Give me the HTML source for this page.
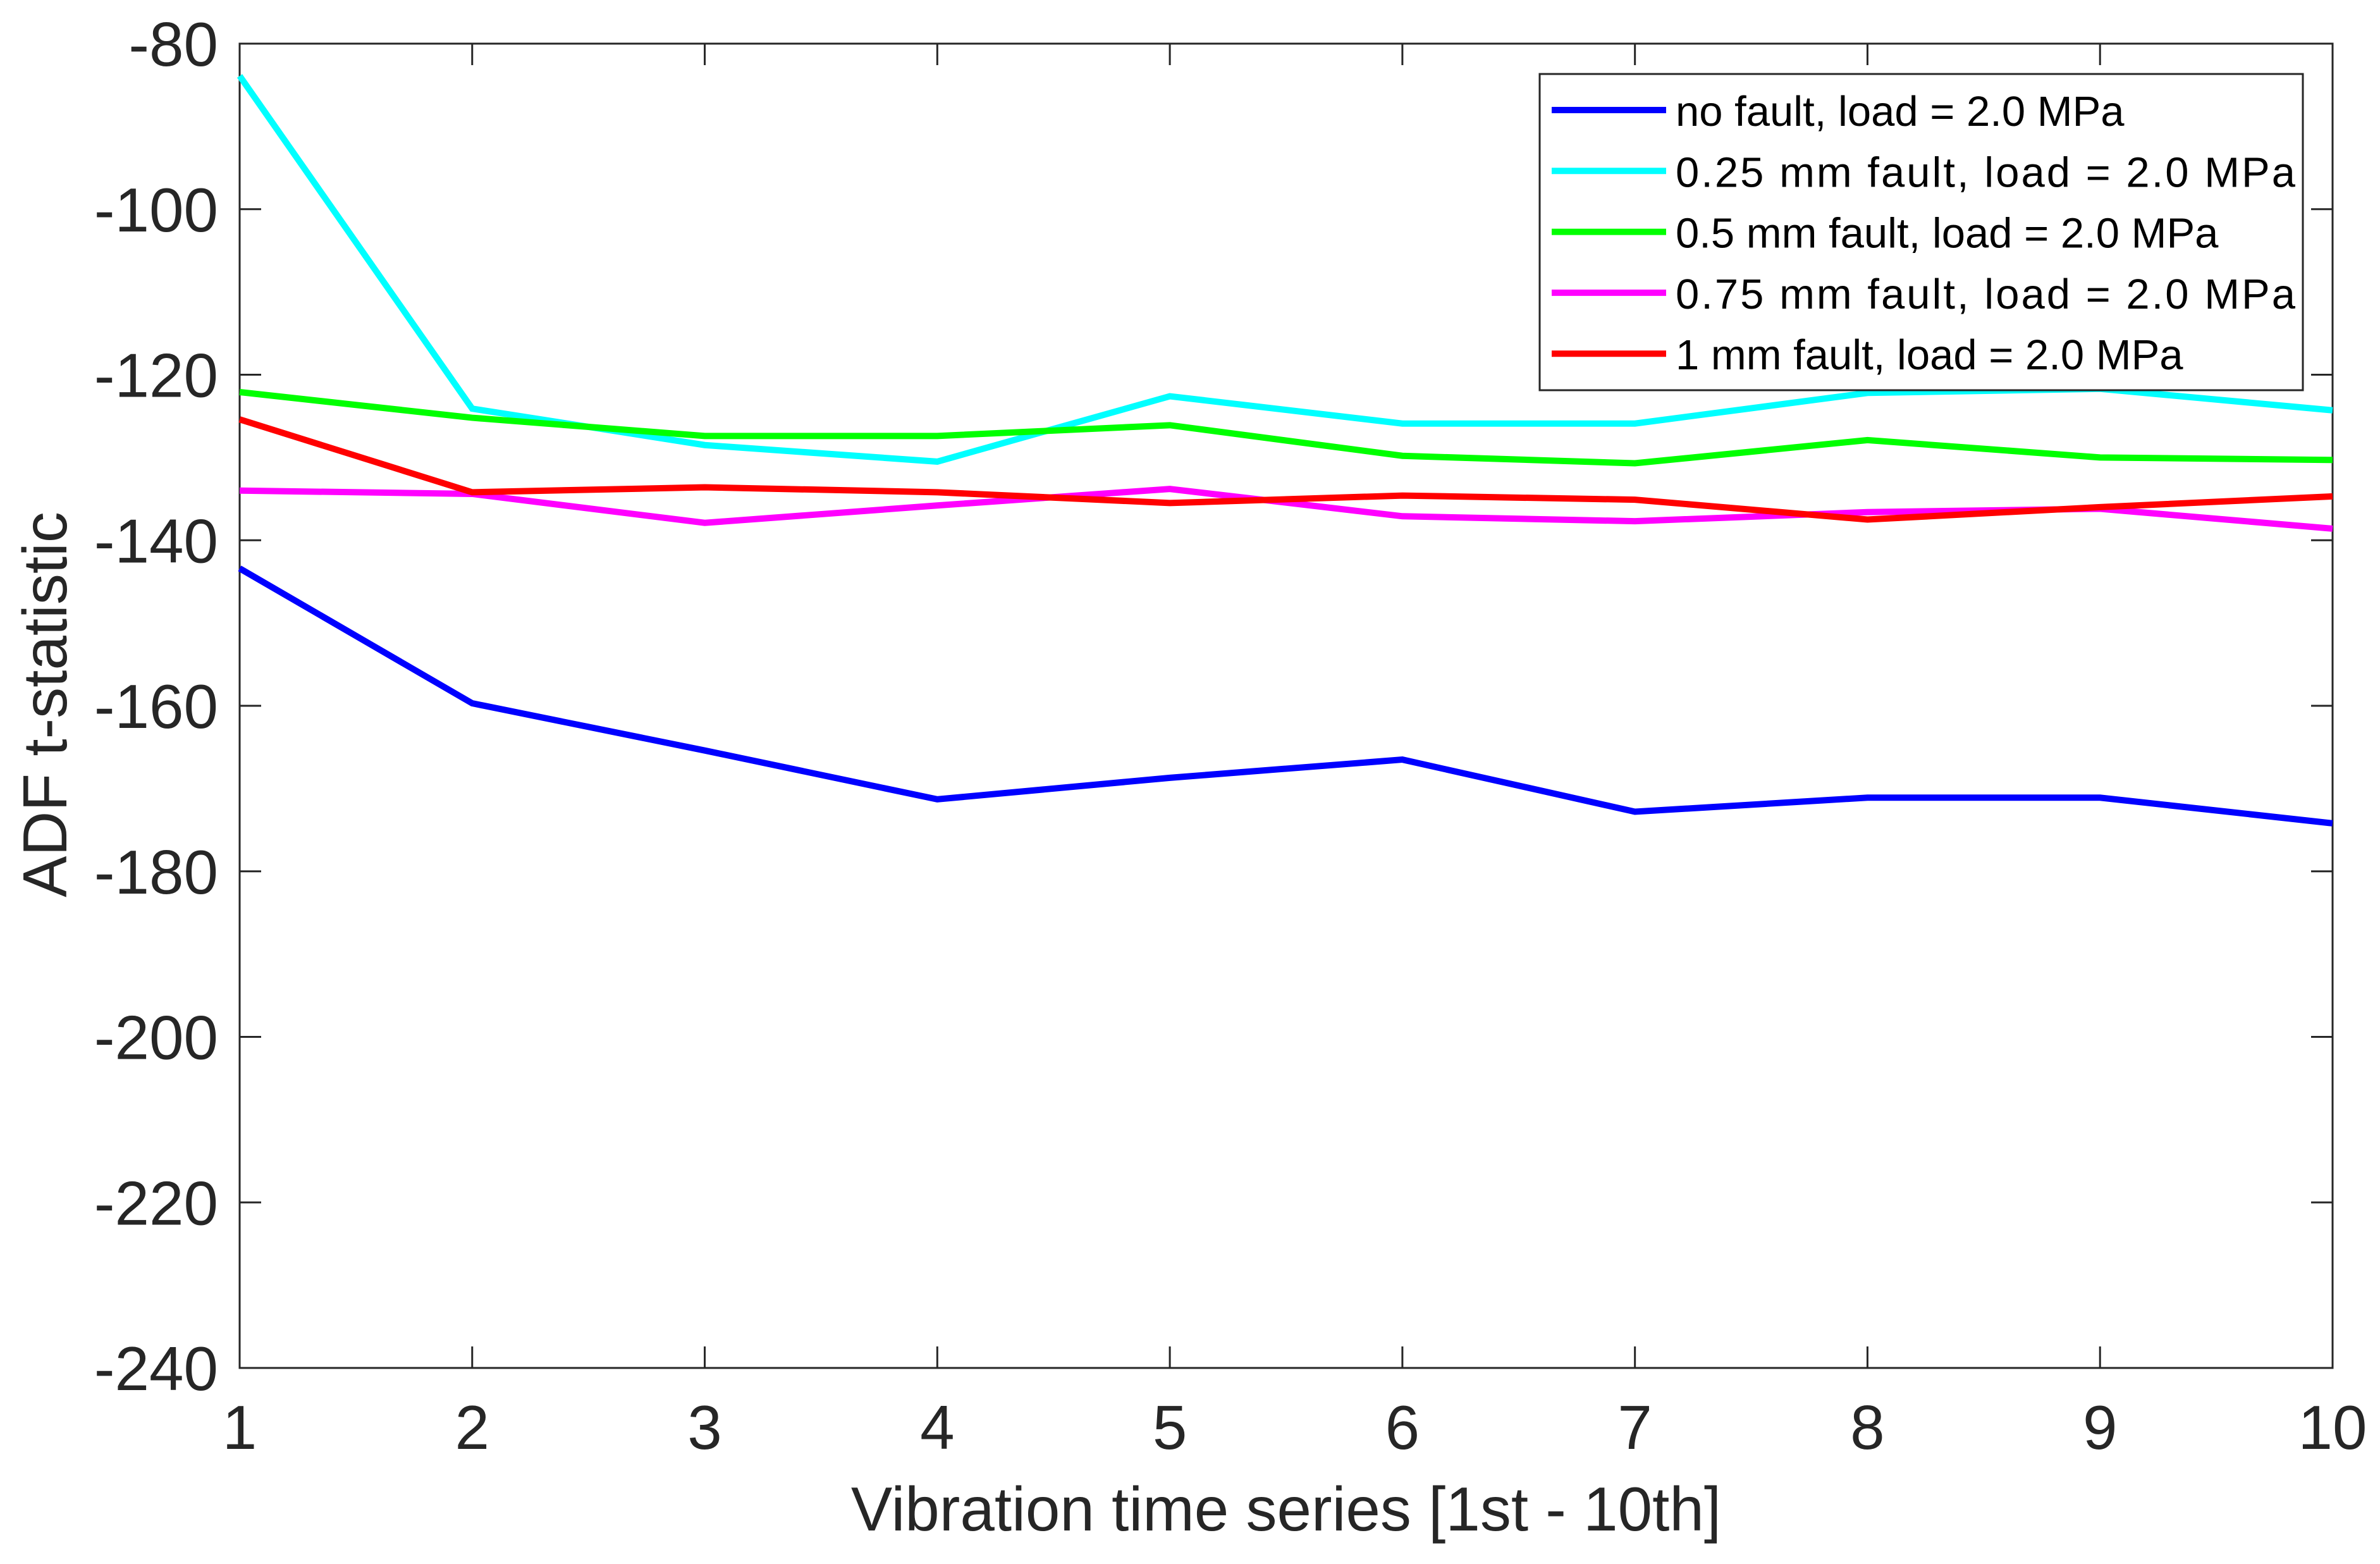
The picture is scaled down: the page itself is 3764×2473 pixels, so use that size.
<!DOCTYPE html>
<html><head><meta charset="utf-8"><style>
html,body{margin:0;padding:0;background:#fff;}
svg{display:block;font-family:"Liberation Sans",Arial,sans-serif;}
</style></head><body>
<svg id="chart" width="3764" height="2473" viewBox="0 0 3764 2473" xmlns="http://www.w3.org/2000/svg">
<g id="plot"></g>
</svg>
<script>
const categories = [1,2,3,4,5,6,7,8,9,10];
const yTicks = [-80,-100,-120,-140,-160,-180,-200,-220,-240];
const seriesNames = ["no fault, load = 2.0 MPa","0.25 mm fault, load = 2.0 MPa","0.5 mm fault, load = 2.0 MPa","0.75 mm fault, load = 2.0 MPa","1 mm fault, load = 2.0 MPa"];
const seriesColors = ["#0000ff","#00ffff","#00ff00","#ff00ff","#ff0000"];
const noFault = [-143.4,-159.7,-165.4,-171.3,-168.7,-166.5,-172.8,-171.1,-171.1,-174.2];
const fault025 = [-83.9,-124.1,-128.5,-130.5,-122.6,-125.9,-125.9,-122.2,-121.7,-124.3];
const fault05 = [-122.1,-125.2,-127.4,-127.4,-126.1,-129.8,-130.7,-127.9,-130.0,-130.3];
const fault075 = [-134.0,-134.4,-137.9,-135.8,-133.8,-137.1,-137.7,-136.6,-136.2,-138.6];
const fault1 = [-125.4,-134.2,-133.6,-134.2,-135.5,-134.6,-135.1,-137.5,-136.0,-134.7];
const seriesData = [noFault,fault025,fault05,fault075,fault1];
const seriesKeys = ["no-fault","fault-0-25mm","fault-0-5mm","fault-0-75mm","fault-1mm"];

const L=379,R=3689,T=69,B=2163,xMin=1,xMax=10,yMin=-240,yMax=-80;
const NS="http://www.w3.org/2000/svg";
const g=document.getElementById('plot');
function xs(v){return L+(v-xMin)/(xMax-xMin)*(R-L);}
function ys(v){return B-(v-yMin)/(yMax-yMin)*(B-T);}
function mk(tag,attrs,parent){const e=document.createElementNS(NS,tag);for(const k in attrs)e.setAttribute(k,attrs[k]);(parent||g).appendChild(e);return e;}

const box=mk('rect',{x:L,y:T,width:R-L,height:B-T,fill:'none',stroke:'#262626','stroke-width':3});



categories.forEach(c=>{
  const x=xs(c);
  const t1=mk('line',{x1:x,y1:B,x2:x,y2:B-34,stroke:'#262626','stroke-width':3});
  
  
  const t2=mk('line',{x1:x,y1:T,x2:x,y2:T+34,stroke:'#262626','stroke-width':3});
  
  
  const tx=mk('text',{x:x,y:B+128,'font-size':98,'text-anchor':'middle',fill:'#262626'});
  tx.textContent=c;
  
  
});
yTicks.forEach(v=>{
  const y=ys(v);
  const t1=mk('line',{x1:L,y1:y,x2:L+34,y2:y,stroke:'#262626','stroke-width':3});
  
  
  const t2=mk('line',{x1:R,y1:y,x2:R-34,y2:y,stroke:'#262626','stroke-width':3});
  
  
  const tx=mk('text',{x:L-34,y:y+35,'font-size':98,'text-anchor':'end',fill:'#262626'});
  tx.textContent=v;
  
  
});
const xt=mk('text',{x:(L+R)/2,y:2420,'font-size':98,'text-anchor':'middle',fill:'#262626'});
xt.textContent='Vibration time series [1st - 10th]';


const yt=mk('text',{x:0,y:0,'font-size':98,'text-anchor':'middle',fill:'#262626',transform:'translate(105,'+((T+B)/2-2)+') rotate(-90)'});
yt.textContent='ADF t-statistic';



seriesData.forEach((d,i)=>{
  const pts=d.map((v,j)=>xs(categories[j])+','+ys(v)).join(' ');
  const p=mk('polyline',{points:pts,fill:'none',stroke:seriesColors[i],'stroke-width':10,'stroke-linejoin':'miter'});
  
  
});

const lg=mk('g',{});


const lb=mk('rect',{x:2435,y:117,width:1207,height:500,fill:'#fff',stroke:'#262626','stroke-width':3},lg);


seriesNames.forEach((n,i)=>{
  const y=174+i*96.3;
  const ent=mk('g',{},lg);
  
  
  mk('line',{x1:2454,y1:y,x2:2635,y2:y,stroke:seriesColors[i],'stroke-width':10},ent);
  const t=mk('text',{x:2650,y:y+25,'font-size':67,fill:'#000',textLength:(i===1||i===3)?980:null},ent);
  if(!(i===1||i===3)) t.removeAttribute('textLength');
  t.textContent=n;
});
</script>
</body></html>
